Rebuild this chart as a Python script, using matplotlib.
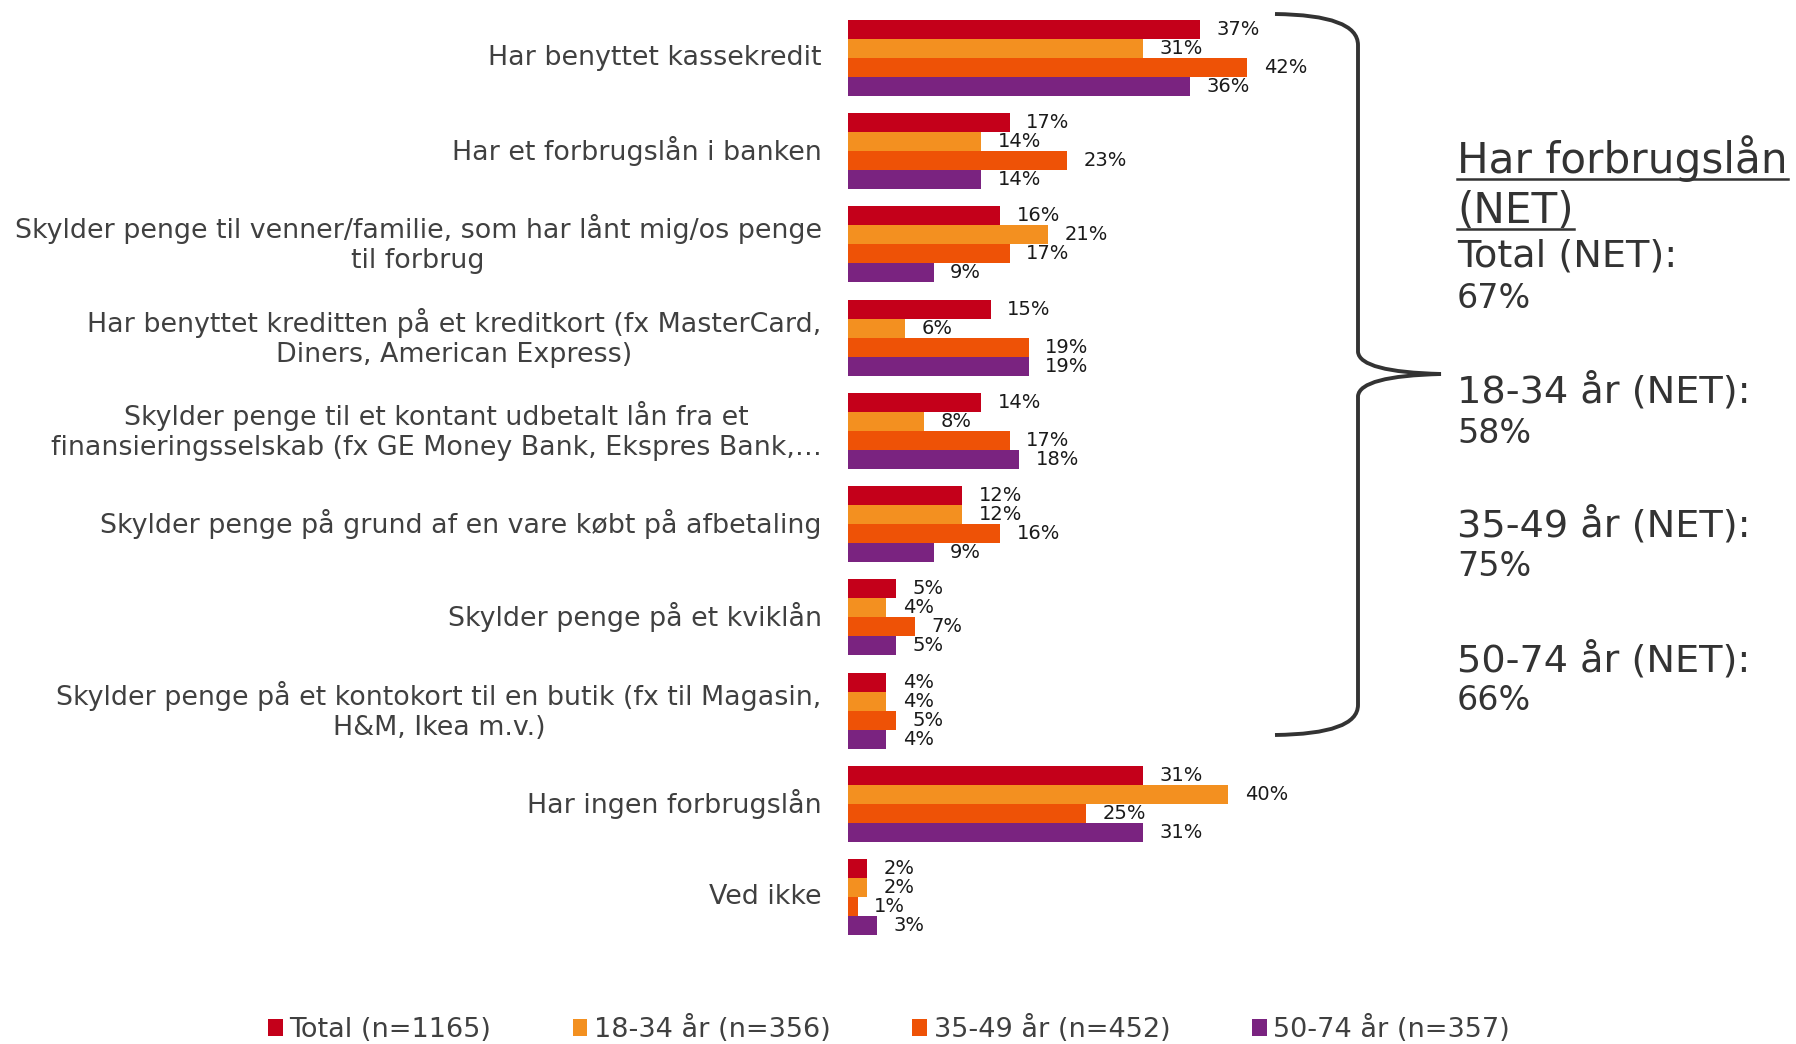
import matplotlib
matplotlib.use("Agg")
import matplotlib.pyplot as plt
from matplotlib.patches import Patch, PathPatch
from matplotlib.path import Path
from matplotlib.lines import Line2D
import numpy as np

plt.rcParams['font.family'] = ['DejaVu Sans']

categories = [
    "Har benyttet kassekredit",
    "Har et forbrugslån i banken",
    "Skylder penge til venner/familie, som har lånt mig/os penge\ntil forbrug",
    "Har benyttet kreditten på et kreditkort (fx MasterCard,\nDiners, American Express)",
    "Skylder penge til et kontant udbetalt lån fra et\nfinansieringsselskab (fx GE Money Bank, Ekspres Bank,…",
    "Skylder penge på grund af en vare købt på afbetaling",
    "Skylder penge på et kviklån",
    "Skylder penge på et kontokort til en butik (fx til Magasin,\nH&M, Ikea m.v.)",
    "Har ingen forbrugslån",
    "Ved ikke",
]
series_names = ["Total (n=1165)", "18-34 år (n=356)", "35-49 år (n=452)", "50-74 år (n=357)"]
total = [37, 17, 16, 15, 14, 12, 5, 4, 31, 2]
age_18_34 = [31, 14, 21, 6, 8, 12, 4, 4, 40, 2]
age_35_49 = [42, 23, 17, 19, 17, 16, 7, 5, 25, 1]
age_50_74 = [36, 14, 9, 19, 18, 9, 5, 4, 31, 3]
colors = ["#C4001A", "#F39020", "#EE5206", "#7A2380"]

net_title = ["Har forbrugslån", "(NET)"]
net_labels = ["Total (NET):", "18-34 år (NET):", "35-49 år (NET):", "50-74 år (NET):"]
net_values = [67, 58, 75, 66]

series = [total, age_18_34, age_35_49, age_50_74]

W, H = 1796, 1044
fig = plt.figure(figsize=(W / 100, H / 100), dpi=100)
ax = fig.add_axes([848 / W, 1 - 943.6 / H, 475 / W, (943.6 - 11.4) / H])
ax.set_xlim(0, 50)
ax.set_ylim(len(categories) - 0.5, -0.5)

bh = 0.204
y = np.arange(len(categories))
for i, (vals, c) in enumerate(zip(series, colors)):
    pos = y + (i - 1.5) * bh
    ax.barh(pos, vals, height=bh, color=c, edgecolor='none')
    for p, v in zip(pos, vals):
        ax.annotate(f"{v}%", (v, p), xytext=(12, 0), textcoords='offset points',
                    va='center', ha='left', fontsize=14, color='#1a1a1a')

ax.set_yticks(y)
ax.set_yticklabels(categories, fontsize=19.4, color='#404040', multialignment='center',
                   linespacing=1.2)
for lbl in ax.get_yticklabels():
    lbl.set_va('center')
ax.tick_params(axis='y', length=0, pad=19)
ax.set_xticks([])
for s in ax.spines.values():
    s.set_visible(False)

# bracket
def P(x, yy):
    return (x / W, 1 - yy / H)

verts = [P(1275, 14), P(1358, 15), P(1358, 45),
         P(1358, 352),
         P(1360, 372), P(1441, 374),
         P(1360, 376), P(1358, 396),
         P(1358, 705),
         P(1358, 734), P(1275, 735)]
codes = [Path.MOVETO, Path.CURVE3, Path.CURVE3,
         Path.LINETO,
         Path.CURVE3, Path.CURVE3,
         Path.CURVE3, Path.CURVE3,
         Path.LINETO,
         Path.CURVE3, Path.CURVE3]
fig.patches.append(PathPatch(Path(verts, codes), transform=fig.transFigure,
                             fill=False, lw=2.8, edgecolor='#333333'))

tx = 1457 / W
title_texts = []
for line, yy in zip(net_title, [159, 211]):
    t = fig.text(tx, 1 - yy / H, line, fontsize=30.3, color='#333333', va='center', ha='left')
    title_texts.append(t)

label_y = [257, 391, 525, 660]
value_y = [298, 433, 566, 700]
for lab, val, ly, vy in zip(net_labels, net_values, label_y, value_y):
    fig.text(tx, 1 - ly / H, lab, fontsize=27.5, color='#333333', va='center', ha='left')
    fig.text(tx, 1 - vy / H, f"{val}%", fontsize=24, color='#333333', va='center', ha='left')

# underline title
fig.canvas.draw()
r = fig.canvas.get_renderer()
for t in title_texts:
    bb = t.get_window_extent(r)
    yl = bb.y0 + 3
    fig.add_artist(Line2D([bb.x0 / W, bb.x1 / W], [yl / H, yl / H], transform=fig.transFigure,
                          color='#333333', lw=1.8))

handles = [Patch(facecolor=c, edgecolor='none') for c in colors]
fig.legend(handles, series_names, loc='center', bbox_to_anchor=(0.495, 1 - 1029 / H),
           ncol=4, frameon=False, fontsize=19.5, handlelength=0.55, handleheight=0.55,
           handletextpad=0.25, columnspacing=3.0, labelcolor='#404040')

fig.savefig('out.png', dpi=100)
